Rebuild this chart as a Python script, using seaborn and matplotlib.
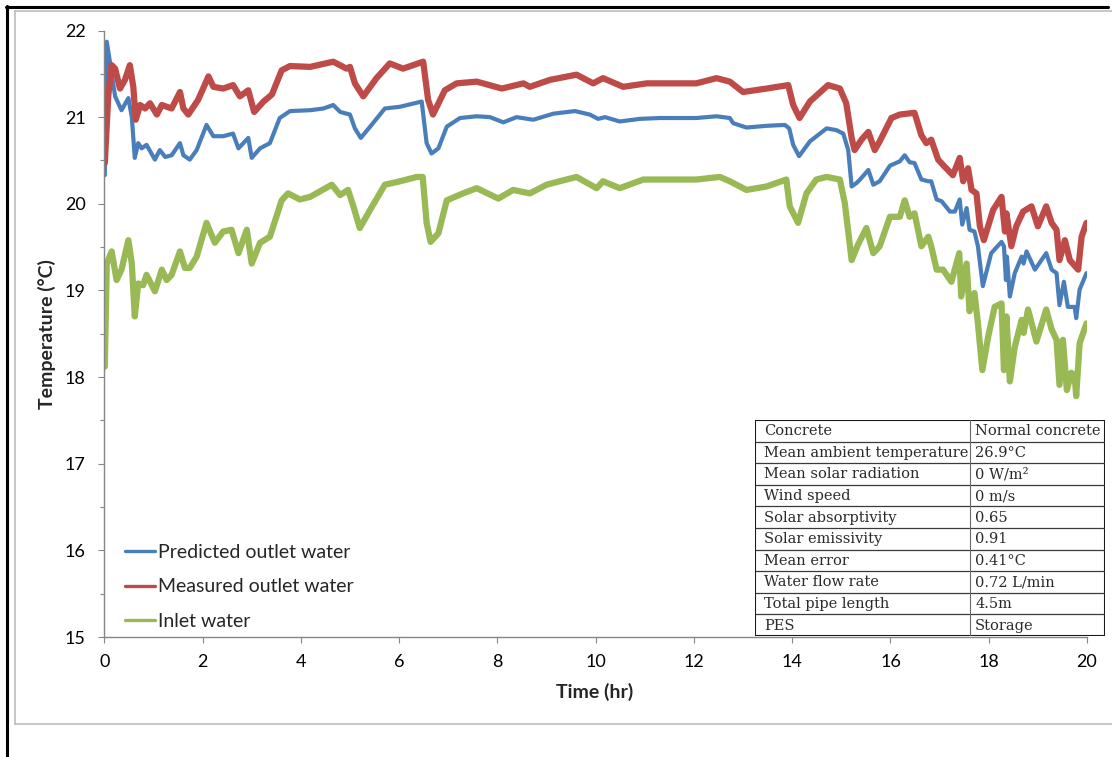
import matplotlib
matplotlib.use("Agg")
import matplotlib.pyplot as plt
from matplotlib.lines import Line2D
import seaborn as sns
import pandas as pd

# ---- data: time (hr) and temperature (degC) for each series ----
t_pred = [0.01, 0.05, 0.15, 0.22, 0.35, 0.49, 0.56, 0.62, 0.69, 0.76, 0.86, 1.03, 1.13, 1.24, 1.37,
          1.54, 1.61, 1.74, 1.88, 2.08, 2.22, 2.42, 2.62, 2.73, 2.93, 3.00, 3.17, 3.37, 3.57, 3.78,
          4.19, 4.46, 4.66, 4.80, 5.00, 5.10, 5.22, 5.41, 5.71, 6.02, 6.46, 6.56, 6.66, 6.80, 6.97,
          7.24, 7.58, 7.85, 8.12, 8.39, 8.73, 9.14, 9.58, 9.88, 10.05, 10.19, 10.49, 10.90, 11.31,
          11.71, 12.05, 12.46, 12.73, 12.80, 13.07, 13.48, 13.85, 13.94, 14.02, 14.14, 14.36, 14.70,
          14.90, 15.04, 15.14, 15.21, 15.31, 15.38, 15.55, 15.65, 15.78, 15.99, 16.19, 16.29, 16.39,
          16.49, 16.63, 16.77, 16.83, 16.94, 17.04, 17.21, 17.31, 17.41, 17.46, 17.55, 17.61, 17.71,
          17.78, 17.88, 18.05, 18.26, 18.31, 18.35, 18.37, 18.43, 18.53, 18.67, 18.71, 18.77, 18.94,
          19.17, 19.28, 19.38, 19.44, 19.53, 19.61, 19.75, 19.78, 19.85, 19.99]
temp_pred = [20.33, 21.87, 21.51, 21.24, 21.08, 21.22, 21.00, 20.53, 20.70, 20.64, 20.68, 20.51, 20.62,
             20.54, 20.56, 20.70, 20.56, 20.51, 20.62, 20.91, 20.78, 20.78, 20.81, 20.64, 20.76, 20.53,
             20.64, 20.70, 20.99, 21.07, 21.08, 21.10, 21.14, 21.06, 21.03, 20.87, 20.76, 20.89, 21.10,
             21.12, 21.18, 20.70, 20.58, 20.64, 20.89, 20.99, 21.01, 21.00, 20.94, 21.00, 20.97, 21.04,
             21.07, 21.03, 20.98, 21.00, 20.95, 20.98, 20.99, 20.99, 20.99, 21.01, 20.99, 20.93, 20.88,
             20.90, 20.91, 20.87, 20.68, 20.55, 20.72, 20.87, 20.85, 20.81, 20.62, 20.20, 20.24, 20.28,
             20.39, 20.22, 20.26, 20.44, 20.49, 20.56, 20.48, 20.47, 20.28, 20.26, 20.26, 20.05, 20.03,
             19.91, 19.91, 20.05, 19.76, 19.95, 19.70, 19.68, 19.51, 19.05, 19.43, 19.56, 19.51, 19.12,
             19.39, 18.93, 19.20, 19.39, 19.31, 19.45, 19.24, 19.43, 19.24, 19.20, 18.83, 19.10, 18.81,
             18.81, 18.68, 19.01, 19.20]

t_meas = [0.01, 0.08, 0.15, 0.22, 0.32, 0.42, 0.52, 0.59, 0.64, 0.73, 0.83, 0.93, 1.07, 1.17, 1.37,
          1.54, 1.61, 1.71, 1.91, 2.12, 2.22, 2.42, 2.62, 2.76, 2.93, 3.05, 3.24, 3.41, 3.61, 3.78,
          4.19, 4.66, 4.93, 5.00, 5.10, 5.27, 5.54, 5.81, 6.08, 6.49, 6.59, 6.69, 6.93, 7.17, 7.58,
          8.09, 8.53, 8.66, 9.07, 9.61, 9.95, 10.15, 10.56, 11.04, 11.71, 12.05, 12.46, 12.73, 13.00,
          13.48, 13.92, 14.02, 14.15, 14.36, 14.73, 14.97, 15.10, 15.21, 15.27, 15.41, 15.55, 15.68,
          15.78, 16.02, 16.19, 16.49, 16.63, 16.73, 16.83, 16.97, 17.10, 17.27, 17.41, 17.48, 17.58,
          17.65, 17.75, 17.82, 17.90, 18.09, 18.26, 18.33, 18.36, 18.46, 18.56, 18.70, 18.87, 19.00,
          19.17, 19.28, 19.38, 19.44, 19.55, 19.65, 19.82, 19.89, 19.99]
temp_meas = [20.47, 21.24, 21.60, 21.56, 21.33, 21.43, 21.60, 21.35, 20.97, 21.14, 21.10, 21.16, 21.03,
             21.14, 21.10, 21.29, 21.10, 21.03, 21.20, 21.47, 21.35, 21.33, 21.37, 21.24, 21.31, 21.06,
             21.18, 21.26, 21.54, 21.59, 21.58, 21.64, 21.56, 21.58, 21.39, 21.24, 21.45, 21.62, 21.56,
             21.64, 21.20, 21.03, 21.31, 21.39, 21.41, 21.33, 21.39, 21.35, 21.43, 21.49, 21.39, 21.45,
             21.35, 21.39, 21.39, 21.39, 21.45, 21.41, 21.29, 21.33, 21.37, 21.14, 20.99, 21.18, 21.37,
             21.33, 21.16, 20.76, 20.62, 20.74, 20.83, 20.62, 20.72, 20.99, 21.03, 21.05, 20.79, 20.70,
             20.74, 20.51, 20.43, 20.33, 20.53, 20.26, 20.41, 20.16, 20.12, 19.74, 19.58, 19.93, 20.08,
             19.68, 19.89, 19.51, 19.74, 19.91, 19.97, 19.74, 19.97, 19.78, 19.70, 19.35, 19.58, 19.35,
             19.24, 19.62, 19.78]

t_inlet = [0.01, 0.05, 0.15, 0.25, 0.35, 0.49, 0.56, 0.62, 0.69, 0.79, 0.86, 1.03, 1.17, 1.27, 1.37,
           1.54, 1.64, 1.74, 1.88, 2.08, 2.25, 2.42, 2.59, 2.73, 2.90, 3.00, 3.17, 3.37, 3.61, 3.74,
           3.98, 4.19, 4.63, 4.80, 4.96, 5.07, 5.20, 5.41, 5.71, 6.02, 6.36, 6.48, 6.56, 6.64, 6.80,
           6.97, 7.30, 7.58, 8.02, 8.32, 8.66, 9.00, 9.61, 10.02, 10.15, 10.49, 10.97, 11.71, 12.05,
           12.53, 12.73, 13.07, 13.48, 13.88, 13.95, 14.12, 14.29, 14.49, 14.70, 14.97, 15.07, 15.21,
           15.34, 15.51, 15.65, 15.78, 15.99, 16.19, 16.29, 16.39, 16.49, 16.63, 16.77, 16.83, 16.94,
           17.07, 17.24, 17.40, 17.44, 17.55, 17.61, 17.71, 17.78, 17.87, 17.99, 18.12, 18.26, 18.31,
           18.36, 18.43, 18.53, 18.67, 18.71, 18.80, 18.97, 19.17, 19.28, 19.38, 19.44, 19.51, 19.59,
           19.68, 19.75, 19.78, 19.85, 19.99]
temp_inlet = [18.12, 19.31, 19.45, 19.12, 19.24, 19.58, 19.31, 18.70, 19.08, 19.06, 19.18, 18.99, 19.24,
              19.12, 19.18, 19.45, 19.26, 19.26, 19.39, 19.78, 19.55, 19.68, 19.70, 19.43, 19.70, 19.31,
              19.55, 19.62, 20.04, 20.12, 20.05, 20.08, 20.22, 20.10, 20.16, 19.97, 19.72, 19.93, 20.22,
              20.26, 20.31, 20.31, 19.78, 19.56, 19.66, 20.04, 20.12, 20.18, 20.06, 20.16, 20.12, 20.22,
              20.31, 20.18, 20.26, 20.18, 20.28, 20.28, 20.28, 20.31, 20.26, 20.16, 20.20, 20.28, 19.97,
              19.78, 20.12, 20.28, 20.31, 20.28, 20.01, 19.35, 19.53, 19.72, 19.43, 19.51, 19.85, 19.85,
              20.04, 19.85, 19.89, 19.51, 19.62, 19.51, 19.24, 19.24, 19.10, 19.43, 18.93, 19.31, 18.76,
              18.97, 18.62, 18.08, 18.47, 18.81, 18.85, 18.08, 18.70, 17.95, 18.35, 18.66, 18.51, 18.78,
              18.41, 18.78, 18.55, 18.43, 17.91, 18.43, 17.85, 18.05, 18.01, 17.78, 18.39, 18.62]

series_names = ["Predicted outlet water", "Measured outlet water", "Inlet water"]
series_colors = ["#4A7EBB", "#BE4B48", "#98B954"]

x_ticks = [0, 2, 4, 6, 8, 10, 12, 14, 16, 18, 20]
y_ticks = [15, 16, 17, 18, 19, 20, 21, 22]

table_labels = ["Concrete", "Mean ambient temperature", "Mean solar radiation", "Wind speed",
                "Solar absorptivity", "Solar emissivity", "Mean error", "Water flow rate",
                "Total pipe length", "PES"]
table_values = ["Normal concrete", "26.9°C", "0 W/m²", "0 m/s", "0.65", "0.91", "0.41°C",
                "0.72 L/min", "4.5m", "Storage"]

# ---- figure setup ----
sns.set_theme(style="white")
plt.rcParams["font.family"] = ["Lato", "DejaVu Sans"]

W, H = 1112, 757
fig = plt.figure(figsize=(W / 100, H / 100), dpi=100)
fig.patch.set_facecolor("white")


def fx(px):
    return px / W


def fy(py):
    return 1 - py / H


x0, x1, ytop, ybot = 104.3, 1087.0, 30.5, 637.0
ax = fig.add_axes([fx(x0), fy(ybot), fx(x1) - fx(x0), fy(ytop) - fy(ybot)])

frames = [
    pd.DataFrame({"t": t_pred, "temp": temp_pred}),
    pd.DataFrame({"t": t_meas, "temp": temp_meas}),
    pd.DataFrame({"t": t_inlet, "temp": temp_inlet}),
]
widths = [3.0, 4.5, 4.5]
for df, col, lw in zip(frames, series_colors, widths):
    sns.lineplot(data=df, x="t", y="temp", ax=ax, color=col, linewidth=lw,
                 estimator=None, sort=False, solid_joinstyle="round")

ax.set_xlim(0, 20)
ax.set_ylim(15, 22)
ax.set_xticks(x_ticks)
ax.set_yticks(y_ticks)
ax.set_yticks([v + 0.5 for v in y_ticks[:-1]], minor=True)
ax.set_xticklabels([str(v) for v in x_ticks])
ax.set_yticklabels([str(v) for v in y_ticks])

axis_gray = "#868686"
for side in ["top", "right"]:
    ax.spines[side].set_visible(False)
for side in ["left", "bottom"]:
    ax.spines[side].set_color(axis_gray)
    ax.spines[side].set_linewidth(1.0)

ax.tick_params(axis="y", which="major", direction="out", length=4.5, width=0.8,
               color=axis_gray, labelsize=13, pad=9, left=True, labelcolor="black")
ax.tick_params(axis="y", which="minor", direction="out", length=3, width=0.8,
               color=axis_gray, left=True)
ax.tick_params(axis="x", which="major", direction="out", length=4.5, width=0.8,
               color=axis_gray, labelsize=13, pad=8, bottom=True, labelcolor="black")
ax.grid(False)

ax.set_xlabel("Time (hr)", fontsize=14, fontweight="bold")
ax.set_ylabel("Temperature (°C)", fontsize=14, fontweight="bold")
ax.xaxis.set_label_coords((595 - x0) / (x1 - x0), (ybot - 692) / (ybot - ytop))
ax.xaxis.label.set_verticalalignment("center")
ax.yaxis.set_label_coords((47 - x0) / (x1 - x0), (ybot - 334) / (ybot - ytop))
ax.yaxis.label.set_verticalalignment("center")

handles = [Line2D([0], [0], color=c, lw=2.4) for c in series_colors]
ax.legend(handles, series_names, loc="upper left",
          bbox_to_anchor=((125 - x0) / (x1 - x0), (ybot - 544) / (ybot - ytop)),
          frameon=False, fontsize=14, handlelength=1.55, handletextpad=0.15,
          labelspacing=0.9, borderpad=0, borderaxespad=0)

# ---- parameter table ----
tx0, tx1, tt, tb = 755, 1105, 420, 636
tax = fig.add_axes([fx(tx0), fy(tb), fx(tx1) - fx(tx0), fy(tt) - fy(tb)])
tax.set_xlim(0, tx1 - tx0)
tax.set_ylim(tb - tt, 0)
tax.axis("off")
tax.add_patch(plt.Rectangle((0, 0), tx1 - tx0, tb - tt, facecolor="white", edgecolor="none"))
n = len(table_labels)
rh = (tb - tt) / n
split = 970 - tx0
for i, (lab, val) in enumerate(zip(table_labels, table_values)):
    yc = (i + 0.5) * rh
    tax.text(9, yc + 0.5, lab, family="DejaVu Serif", fontsize=10.5, color="#2a2a2a",
             ha="left", va="center")
    tax.text(split + 5, yc + 0.5, val, family="DejaVu Serif", fontsize=10.5, color="#2a2a2a",
             ha="left", va="center")
for i in range(1, n):
    tax.plot([0, tx1 - tx0], [i * rh, i * rh], color="#3a3a3a", lw=0.9, solid_capstyle="butt")
tax.plot([split, split], [0, tb - tt], color="#6a6a6a", lw=0.8)
tax.add_patch(plt.Rectangle((0, 0), tx1 - tx0, tb - tt, facecolor="none",
                            edgecolor="#1a1a1a", lw=1.5))

# ---- chart area frame ----
fig.add_artist(Line2D([fx(15), fx(15)], [fy(11), fy(724)], color="#bdbdbd", lw=1.2))
fig.add_artist(Line2D([fx(15), fx(1112)], [fy(11), fy(11)], color="#bdbdbd", lw=1.2))
fig.add_artist(Line2D([fx(15), fx(1112)], [fy(724), fy(724)], color="#bdbdbd", lw=1.2))
fig.add_artist(Line2D([fx(7), fx(7)], [fy(6), fy(757)], color="black", lw=2.2))
fig.add_artist(Line2D([fx(6), fx(1108)], [fy(7), fy(7)], color="black", lw=2.2))

fig.savefig("out.png", dpi=100, facecolor="white")
